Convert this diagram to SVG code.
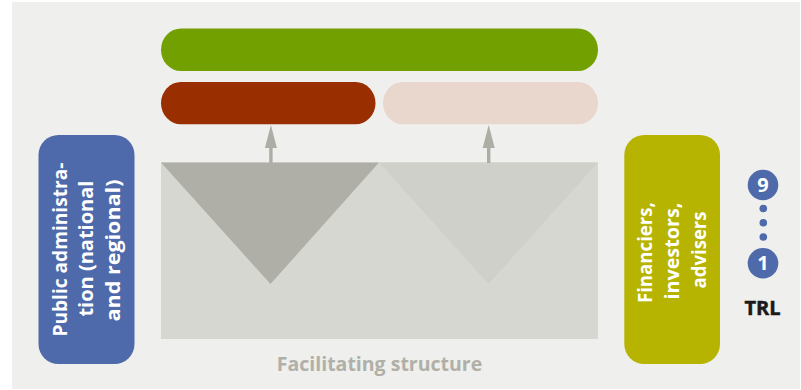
<svg xmlns="http://www.w3.org/2000/svg" width="801" height="390" viewBox="0 0 801 390">
  <defs>
    <style>
      .lbl { font-family: "Open Sans", "Liberation Sans", sans-serif; font-weight: 700; }
      .white { fill: #ffffff; }
      .arrow { fill: #adada5; }
    </style>
  </defs>
  <!-- canvas -->
  <rect x="12" y="2" width="788" height="387" fill="#efefed"/>

  <!-- top bars -->
  <g id="bar-top">
    <rect x="161" y="28.5" width="437" height="42.5" rx="20" ry="21.25" fill="#72a000"/>
  </g>
  <g id="bar-left">
    <rect x="161" y="82" width="214.5" height="42.3" rx="20" ry="21.15" fill="#992e00"/>
  </g>
  <g id="bar-right">
    <rect x="383" y="82" width="215" height="42.3" rx="20" ry="21.15" fill="#e9d6cc"/>
  </g>

  <!-- facilitating structure with two funnels -->
  <g id="structure">
    <rect x="161" y="162.5" width="437" height="176.5" fill="#d6d7d1"/>
    <polygon points="161,162.5 379,162.5 270.5,284" fill="#afafa7"/>
    <polygon points="379,162.5 598,162.5 488.5,284" fill="#cfd0ca"/>
    <text class="lbl" x="379.5" y="371" font-size="19.5" text-anchor="middle" fill="#b0b0a8">Facilitating structure</text>
  </g>

  <!-- side actors -->
  <g id="public-admin">
    <rect x="38.5" y="135" width="96" height="229" rx="20" fill="#4e6aaa"/>
    <g transform="rotate(-90)">
      <text class="lbl white" font-size="20" text-anchor="middle" lengthAdjust="spacingAndGlyphs">
        <tspan x="-247" y="66.7" textLength="174" lengthAdjust="spacingAndGlyphs">Public administra-</tspan>
        <tspan x="-246" y="93.2" textLength="136" lengthAdjust="spacingAndGlyphs">tion (national</tspan>
        <tspan x="-250.5" y="119.7" textLength="142" lengthAdjust="spacingAndGlyphs">and regional)</tspan>
      </text>
    </g>
  </g>
  <g id="financiers">
    <rect x="624.3" y="135" width="95.7" height="229" rx="20" fill="#b6b400"/>
    <g transform="rotate(-90)">
      <text class="lbl white" font-size="20" text-anchor="middle">
        <tspan x="-250" y="652" textLength="101" lengthAdjust="spacingAndGlyphs">Financiers,</tspan>
        <tspan x="-248.5" y="679" textLength="97" lengthAdjust="spacingAndGlyphs">investors,</tspan>
        <tspan x="-250" y="705.5" textLength="77" lengthAdjust="spacingAndGlyphs">advisers</tspan>
      </text>
    </g>
  </g>

  <!-- TRL scale -->
  <g id="trl">
    <circle cx="763" cy="185" r="15.3" fill="#4e6aaa"/>
    <text class="lbl white" x="763" y="192" font-size="20" text-anchor="middle">9</text>
    <circle cx="763.3" cy="208.5" r="3.8" fill="#4e6aaa"/>
    <circle cx="763.3" cy="222.8" r="3.8" fill="#4e6aaa"/>
    <circle cx="763.3" cy="237" r="3.8" fill="#4e6aaa"/>
    <circle cx="763" cy="263.3" r="15.3" fill="#4e6aaa"/>
    <text class="lbl white" x="763" y="270.3" font-size="20" text-anchor="middle">1</text>
    <text class="lbl" x="762.5" y="315" font-size="20" text-anchor="middle" fill="#1a1a1a" stroke="#1a1a1a" stroke-width="0.5">TRL</text>
  </g>

  <!-- connectors: funnels feeding the bars above -->
  <g id="connectors">
    <rect class="arrow" x="269.2" y="146" width="3.4" height="17"/>
    <polygon class="arrow" points="270.9,125 264.9,148 276.9,148"/>
    <rect class="arrow" x="487" y="146" width="3.4" height="17"/>
    <polygon class="arrow" points="488.7,125 482.7,148 494.7,148"/>
  </g>
</svg>
